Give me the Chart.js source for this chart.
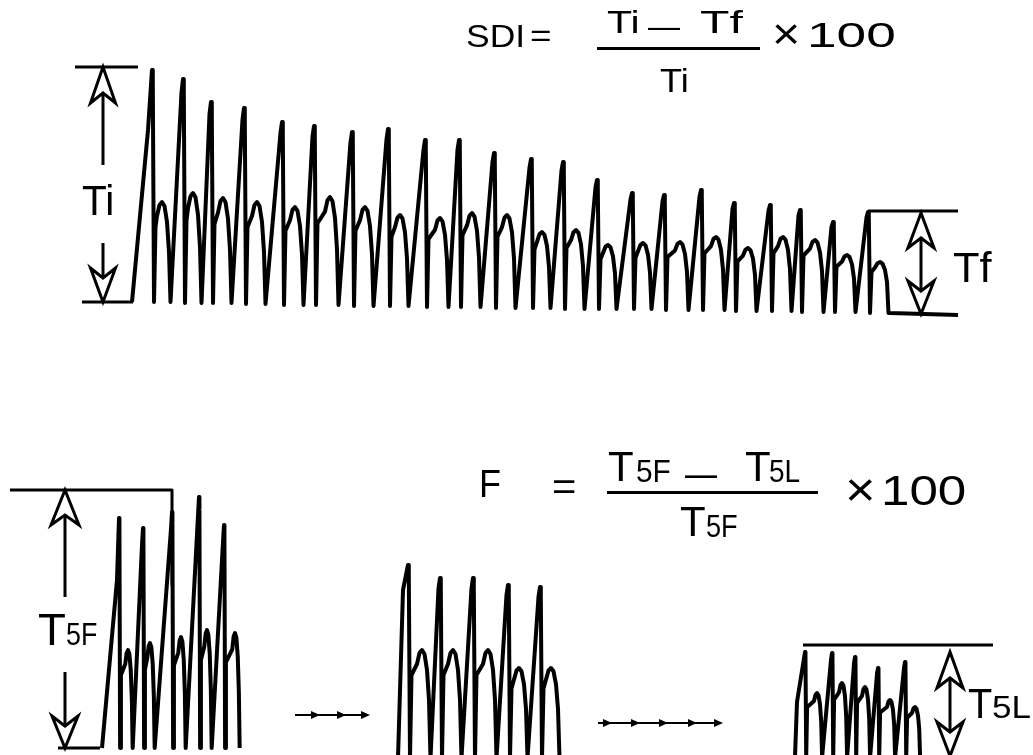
<!DOCTYPE html>
<html>
<head>
<meta charset="utf-8">
<script src="https://cdn.jsdelivr.net/npm/chart.js@4"></script>
<style>
  html, body { margin: 0; padding: 0; background: #fff; }
  #pagina { position: relative; width: 1033px; height: 755px; overflow: hidden; font-family: "Liberation Sans", Arial, sans-serif; color: #000; }
  .painel { position: absolute; left: 0; width: 1033px; }
  #painelSDI { top: 0; height: 340px; }
  #painelF { top: 440px; height: 315px; }
  .txt { position: absolute; white-space: nowrap; line-height: 1; transform-origin: 0 0; }
  .barra { position: absolute; background: #000; }
</style>
</head>
<body>
<div id="pagina">
  <div class="painel" id="painelSDI"><canvas id="graficoSDI"></canvas></div>
  <div class="painel" id="painelF"><canvas id="graficoF"></canvas></div>

  <div class="barra" style="left:597px;top:47px;width:163px;height:3px"></div>
  <div class="barra" style="left:607px;top:491px;width:211px;height:3px"></div>

  <span class="txt" data-x="467" data-b="47" data-s="31" data-w="55">SDI</span>
  <span class="txt" data-x="531" data-b="46" data-s="31" data-w="19">=</span>
  <span class="txt" data-x="607" data-b="33" data-s="32" data-w="30">Ti</span>
  <span class="txt" data-x="648" data-b="37" data-s="32" data-w="32">—</span>
  <span class="txt" data-x="700" data-b="33" data-s="32" data-w="43">Tf</span>
  <span class="txt" data-x="660" data-b="92" data-s="34" data-w="27">Ti</span>
  <span class="txt" data-x="775" data-b="49" data-s="44" data-w="22">×</span>
  <span class="txt" data-x="810" data-b="47" data-s="35" data-w="85">100</span>

  <span class="txt" data-x="482" data-b="497" data-s="38" data-w="18">F</span>
  <span class="txt" data-x="553" data-b="500" data-s="38" data-w="22">=</span>
  <span class="txt" data-x="608" data-b="482" data-s="42" data-w="25">T</span>
  <span class="txt" data-x="637" data-b="482" data-s="31" data-w="33">5F</span>
  <span class="txt" data-x="685" data-b="487" data-s="38" data-w="32">—</span>
  <span class="txt" data-x="745" data-b="482" data-s="42" data-w="25">T</span>
  <span class="txt" data-x="770" data-b="482" data-s="31" data-w="30">5L</span>
  <span class="txt" data-x="680" data-b="537" data-s="42" data-w="25">T</span>
  <span class="txt" data-x="707" data-b="537" data-s="31" data-w="30">5F</span>
  <span class="txt" data-x="848" data-b="507" data-s="48" data-w="24">×</span>
  <span class="txt" data-x="885" data-b="506" data-s="42" data-w="80">100</span>

  <span class="txt" data-x="82" data-b="215" data-s="43" data-w="30">Ti</span>
  <span class="txt" data-x="953" data-b="283" data-s="42" data-w="39">Tf</span>
  <span class="txt" data-x="38" data-b="645" data-s="44" data-w="27">T</span>
  <span class="txt" data-x="67" data-b="645" data-s="32" data-w="30">5F</span>
  <span class="txt" data-x="968" data-b="718" data-s="43" data-w="24">T</span>
  <span class="txt" data-x="993" data-b="718" data-s="32" data-w="37">5L</span>
</div>

<script>
// traçado de cima (SDI): tempo no eixo x, tensão no eixo y
const sdiPicosX = [152, 183, 211, 244, 282, 314, 352, 388, 425, 459, 494, 531, 563, 597, 632, 664, 701, 734, 770, 800, 833, 868];
const sdiPicos = [232, 223, 200, 194, 180, 176, 170, 173, 162, 162, 149, 143, 140, 122, 109, 107, 112, 99, 97, 92, 80, 90];
const sdiLombadasX = [162, 193, 223, 257, 295, 330, 365, 400, 440, 472, 507, 542, 576, 608, 643, 680, 716, 748, 783, 815, 847, 880];
const sdiLombadas = [100, 109, 104, 100, 95, 105, 95, 87, 84, 89, 87, 70, 72, 57, 59, 60, 65, 54, 65, 62, 47, 40];
const sdiBases = [0, -1, -1, -2, -3, -3, -4, -4, -5, -5, -6, -6, -7, -7, -7, -8, -8, -9, -9, -10, -10, -11];

// traçados de baixo: 5 primeiros, intermediários e 5 últimos
const primeirosPicosX = [119, 143, 172, 199, 224];
const primeirosPicos = [232, 222, 238, 253, 225];
const primeirosLombadasX = [128, 150, 181, 207, 235];
const primeirosLombadas = [100, 107, 113, 120, 117];
const primeirosBases = [2, 2, 2, 2, 2];

const meioPicosX = [408, 440, 473, 508, 540];
const meioPicos = [185, 172, 172, 165, 163];
const meioLombadasX = [422, 453, 488, 519, 551];
const meioLombadas = [100, 100, 100, 82, 82];
const meioBases = [-8, -8, -8, -8, -8];

const ultimosPicosX = [805, 832, 855, 878, 905];
const ultimosPicos = [98, 97, 93, 82, 88];
const ultimosLombadasX = [817, 842, 865, 890, 915];
const ultimosLombadas = [57, 67, 63, 50, 43];
const ultimosBases = [-7, -7, -7, -7, -7];

// linhas de referência e setas de medida
const linhaTiTopo = [[75, 235], [138, 235]];
const linhaTiBase = [[82, 0], [133, 0]];
const linhaTfTopo = [[868, 91], [958, 91]];
const linhaT5FTopo = [[10, 260], [172, 260], [172, 165]];
const linhaT5FBase = [[58, 2], [100, 2]];
const linhaT5LTopo = [[803, 105], [993, 105]];

const setasSDI = [
  { x: 103, ponta: 235, cauda: 137, comp: 36, meia: 12.5 },
  { x: 103, ponta: 0, cauda: 59, comp: 34, meia: 12.5 },
  { x: 921, ponta: 89, cauda: 38, comp: 35, meia: 13 },
  { x: 921, ponta: -12, cauda: 38, comp: 33, meia: 13 }
];
const setasF = [
  { x: 65, ponta: 260, cauda: 153, comp: 35, meia: 14 },
  { x: 65, ponta: 2, cauda: 78, comp: 32, meia: 13 },
  { x: 950, ponta: 98, cauda: 50, comp: 36, meia: 13 },
  { x: 950, ponta: -6, cauda: 50, comp: 34, meia: 13 }
];
const setinhas = [
  { y: 35, xs: [295, 320, 346, 370] },
  { y: 27, xs: [598, 612, 640, 668, 697, 723] }
];

function montarTraco(inicio, ombro, picosX, picos, lombadasX, lombadas, bases, k, fim) {
  const pontos = [{ x: inicio[0], y: inicio[1] }, { x: ombro[0], y: ombro[1] }];
  picosX.forEach((px, i) => {
    const hx = lombadasX[i];
    const h = lombadas[i];
    const b = bases[i];
    const p = picos[i];
    if (i > 0) pontos.push({ x: px - 1.5 * k, y: p * 0.94 });
    pontos.push({ x: px, y: p });
    pontos.push({ x: px + 0.8 * k, y: p * 0.95 });
    pontos.push({ x: px + 2 * k, y: b });
    pontos.push({ x: px + 3.5 * k, y: h * 0.75 });
    pontos.push({ x: hx - 5 * k, y: h * 0.86 });
    pontos.push({ x: hx - 2.5 * k, y: h * 0.97 });
    pontos.push({ x: hx, y: h });
    pontos.push({ x: hx + 2.5 * k, y: h * 0.96 });
    pontos.push({ x: hx + 5 * k, y: h * 0.8 });
    pontos.push({ x: hx + 7 * k, y: h * 0.5 });
    pontos.push({ x: hx + 8.5 * k, y: b });
  });
  fim.forEach(p => pontos.push({ x: p[0], y: p[1] }));
  return pontos;
}

function linha(pares, largura) {
  return {
    data: pares.map(p => ({ x: p[0], y: p[1] })),
    borderColor: '#000',
    borderWidth: largura,
    pointRadius: 0,
    fill: false
  };
}

function traco(pontos) {
  return { data: pontos, borderColor: '#000', borderWidth: 4, pointRadius: 0, fill: false };
}

const pluginSetas = {
  id: 'setas',
  afterDatasetsDraw(chart, args, opcoes) {
    const ctx = chart.ctx;
    const sx = chart.scales.x;
    const sy = chart.scales.y;
    ctx.save();
    ctx.strokeStyle = '#000';
    ctx.fillStyle = '#000';
    ctx.lineJoin = 'miter';

    (opcoes.ocas || []).forEach(s => {
      const x = sx.getPixelForValue(s.x);
      const yPonta = sy.getPixelForValue(s.ponta);
      const yCauda = sy.getPixelForValue(s.cauda);
      const dir = yCauda > yPonta ? 1 : -1;
      const yBase = yPonta + dir * s.comp;
      const yEntalhe = yPonta + dir * (s.comp - 10);
      ctx.lineWidth = 3;
      ctx.beginPath();
      ctx.moveTo(x, yEntalhe);
      ctx.lineTo(x, yCauda);
      ctx.stroke();
      ctx.beginPath();
      ctx.moveTo(x, yPonta);
      ctx.lineTo(x - s.meia, yBase);
      ctx.lineTo(x, yEntalhe);
      ctx.lineTo(x + s.meia, yBase);
      ctx.closePath();
      ctx.fillStyle = '#fff';
      ctx.fill();
      ctx.stroke();
      ctx.fillStyle = '#000';
    });

    (opcoes.pequenas || []).forEach(g => {
      const y = sy.getPixelForValue(g.y);
      const xs = g.xs.map(v => sx.getPixelForValue(v));
      ctx.lineWidth = 2;
      ctx.beginPath();
      ctx.moveTo(xs[0], y);
      ctx.lineTo(xs[xs.length - 1] - 4, y);
      ctx.stroke();
      xs.slice(1).forEach(xp => {
        ctx.beginPath();
        ctx.moveTo(xp, y);
        ctx.lineTo(xp - 9, y - 4);
        ctx.lineTo(xp - 9, y + 4);
        ctx.closePath();
        ctx.fill();
      });
    });
    ctx.restore();
  }
};

function opcoesGrafico(yMin, yMax, setas) {
  return {
    responsive: true,
    maintainAspectRatio: false,
    animation: false,
    layout: { padding: 0 },
    scales: {
      x: { type: 'linear', min: 0, max: 1033, display: false },
      y: { type: 'linear', min: yMin, max: yMax, display: false }
    },
    elements: { line: { tension: 0, borderJoinStyle: 'round', borderCapStyle: 'butt' } },
    plugins: { legend: { display: false }, tooltip: { enabled: false }, setas: setas }
  };
}

new Chart(document.getElementById('graficoSDI'), {
  type: 'line',
  data: {
    datasets: [
      traco(montarTraco([132, 0], [148, 172], sdiPicosX, sdiPicos, sdiLombadasX, sdiLombadas, sdiBases, 1, [[890, -11], [958, -13]])),
      linha(linhaTiTopo, 3),
      linha(linhaTiBase, 3),
      linha(linhaTfTopo, 3)
    ]
  },
  options: opcoesGrafico(-38, 302, { ocas: setasSDI }),
  plugins: [pluginSetas]
});

new Chart(document.getElementById('graficoF'), {
  type: 'line',
  data: {
    datasets: [
      traco(montarTraco([102, 2], [117, 170], primeirosPicosX, primeirosPicos, primeirosLombadasX, primeirosLombadas, primeirosBases, 0.55, [])),
      traco(montarTraco([398, -8], [403, 160], meioPicosX, meioPicos, meioLombadasX, meioLombadas, meioBases, 1, [])),
      traco(montarTraco([795, -7], [797, 48], ultimosPicosX, ultimosPicos, ultimosLombadasX, ultimosLombadas, ultimosBases, 0.6, [])),
      linha(linhaT5FTopo, 3),
      linha(linhaT5FBase, 3),
      linha(linhaT5LTopo, 3)
    ]
  },
  options: opcoesGrafico(-5, 310, { ocas: setasF, pequenas: setinhas }),
  plugins: [pluginSetas]
});

// textos: posiciona pela linha de base e ajusta a largura medida
const medida = document.createElement('canvas').getContext('2d');
document.querySelectorAll('.txt').forEach(el => {
  const s = +el.dataset.s;
  medida.font = s + 'px "Liberation Sans"';
  const m = medida.measureText(el.textContent);
  const tinta = m.actualBoundingBoxLeft + m.actualBoundingBoxRight;
  const k = (+el.dataset.w) / tinta;
  el.style.fontSize = s + 'px';
  el.style.left = (+el.dataset.x + k * m.actualBoundingBoxLeft) + 'px';
  el.style.top = (+el.dataset.b - 0.8465 * s) + 'px';
  el.style.transform = 'scaleX(' + k + ')';
});
</script>
</body>
</html>
